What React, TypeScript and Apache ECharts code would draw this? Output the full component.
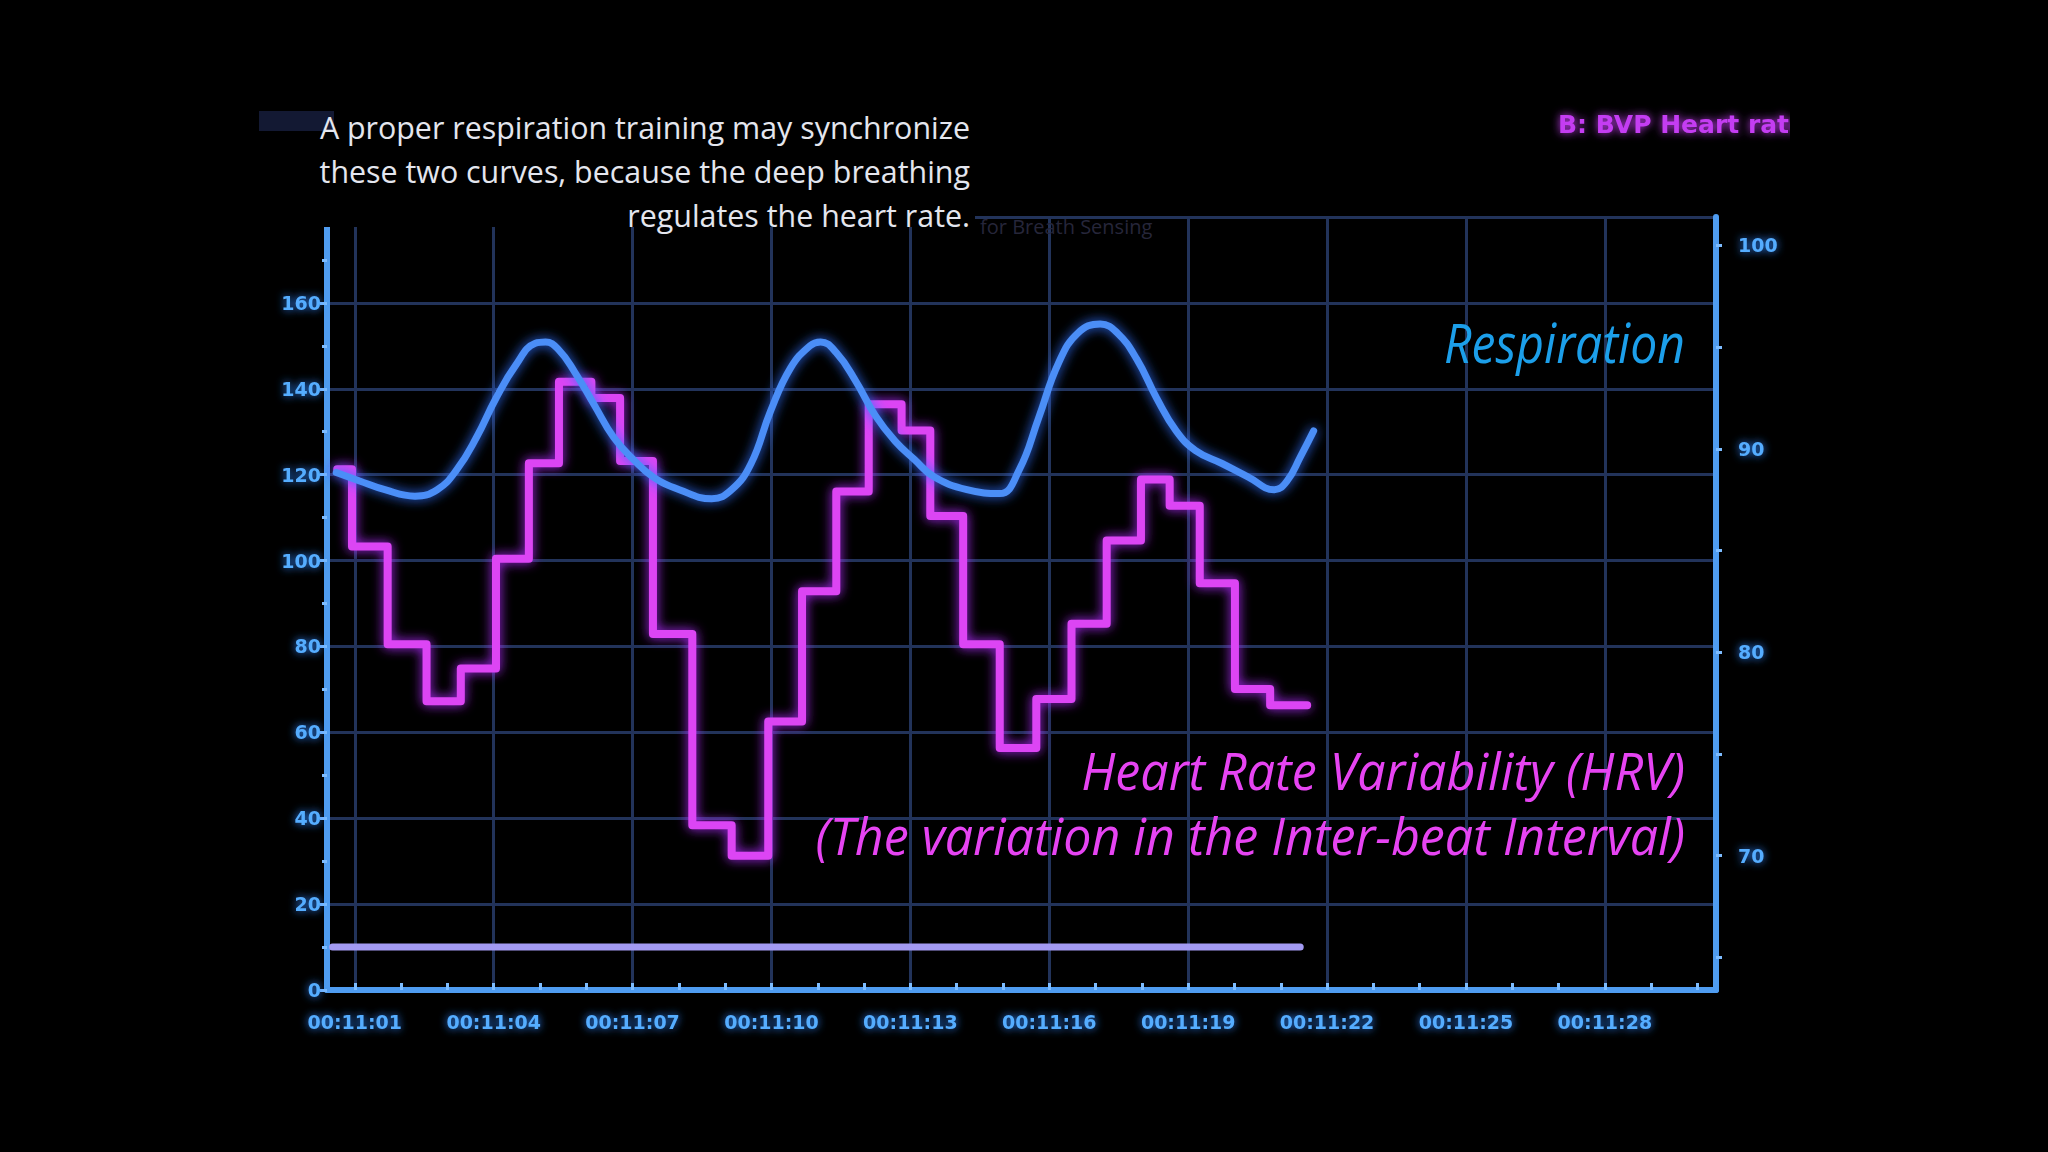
import React, { useEffect, useRef } from 'react';
import * as echarts from 'echarts';

// x: seconds after 00:11:00
const timeTicks = [1, 2, 3, 4, 5, 6, 7, 8, 9, 10, 11, 12, 13, 14, 15, 16, 17, 18, 19, 20, 21, 22, 23, 24, 25, 26, 27, 28, 29, 30];
const timeLabelValues = [1, 4, 7, 10, 13, 16, 19, 22, 25, 28];
const timeLabels = ['00:11:01', '00:11:04', '00:11:07', '00:11:10', '00:11:13', '00:11:16', '00:11:19', '00:11:22', '00:11:25', '00:11:28'];

const rightTickValues = [65, 70, 75, 80, 85, 90, 95, 100];
const rightLabelValues = [70, 80, 90, 100];

// Respiration (left axis)
const respTime = [0.6, 1.09, 1.65, 2.3, 2.78, 3.2, 3.63, 4.05, 4.47, 4.9, 5.12, 5.41, 5.75, 6.17, 6.59, 7.02, 7.44, 8.01, 8.71, 9.14, 9.56, 9.98, 10.41, 10.83, 11.06, 11.4, 11.82, 12.24, 12.67, 13.09, 13.51, 14.22, 14.93, 15.35, 15.77, 16.2, 16.62, 17.1, 17.47, 17.89, 18.32, 18.74, 19.16, 19.73, 20.29, 20.86, 21.14, 21.42, 21.71];
const respValue = [120.5, 118.6, 116.5, 115.0, 116.5, 121.1, 128.7, 137.8, 145.4, 150.6, 150.9, 149.0, 143.9, 136.3, 128.7, 123.5, 119.5, 116.5, 114.4, 116.5, 122.6, 134.8, 144.8, 150.0, 150.9, 148.4, 141.8, 133.8, 127.8, 123.5, 119.5, 116.5, 115.6, 121.1, 133.2, 146.0, 153.0, 155.1, 153.0, 146.9, 137.8, 130.2, 125.6, 122.6, 119.5, 116.5, 118.6, 124.1, 130.2];

// Heart rate steps (right axis): step start times and values
const hrvTime = [0.62, 0.94, 1.71, 2.55, 3.29, 4.05, 4.76, 5.41, 6.11, 6.73, 7.44, 8.29, 9.14, 9.93, 10.66, 11.4, 12.1, 12.81, 13.43, 14.14, 14.93, 15.72, 16.48, 17.24, 17.98, 18.6, 19.25, 20.01, 20.77, 21.57];
const hrvValue = [89.0, 85.2, 80.4, 77.6, 79.2, 84.6, 89.3, 93.3, 92.5, 89.4, 80.9, 71.5, 70.0, 76.6, 83.0, 87.9, 92.2, 90.9, 86.7, 80.4, 75.3, 77.7, 81.4, 85.5, 88.5, 87.2, 83.4, 78.2, 77.4, 77.4];

// Baseline trace (left axis)
const baseTime = [0.52, 21.42];
const baseValue = [10, 10];

const AXIS_BLUE = '#4f9cf0';
const TICK_BLUE = '#7dbcff';
const LABEL_BLUE = '#55adff';
const GRID_COLOR = '#22335a';

export default function App() {
  const ref = useRef<HTMLDivElement>(null);

  useEffect(() => {
    document.body.style.margin = '0';
    document.body.style.background = '#000';
    const chart = echarts.init(ref.current!, null, { renderer: 'svg' });

    const labelStyle = {
      color: LABEL_BLUE,
      fontFamily: 'DejaVu Sans',
      fontWeight: 'bold' as const,
      fontSize: 19,
      textShadowColor: '#2f86ff',
      textShadowBlur: 8,
    };
    const axisLineStyle = { color: AXIS_BLUE, width: 6 };

    chart.setOption({
      animation: false,
      backgroundColor: '#000000',
      grid: { left: 327, right: 332, top: 217, bottom: 162, containLabel: false },
      xAxis: [
        {
          type: 'value',
          min: 0.4,
          max: 30.4,
          position: 'bottom',
          z: 3,
          axisLine: { show: true, onZero: false, lineStyle: axisLineStyle },
          axisTick: { show: true, customValues: timeTicks, length: 7, inside: true, lineStyle: { color: TICK_BLUE, width: 3 } },
          axisLabel: {
            customValues: timeLabelValues,
            margin: 22,
            formatter: (v: number) => {
              const i = timeLabelValues.indexOf(Math.round(v));
              return i >= 0 ? timeLabels[i] : '';
            },
            ...labelStyle,
          },
          splitLine: { show: false },
        },
        {
          type: 'value',
          min: 0.4,
          max: 30.4,
          position: 'bottom',
          axisLine: { show: false },
          axisTick: { show: false, customValues: timeLabelValues },
          axisLabel: { show: false },
          splitLine: { show: true, lineStyle: { color: GRID_COLOR, width: 3 } },
        },
      ],
      yAxis: [
        {
          type: 'value',
          min: 0,
          max: 180,
          interval: 20,
          position: 'left',
          z: 3,
          axisLine: { show: true, onZero: false, lineStyle: axisLineStyle },
          axisTick: { show: true, length: 7, lineStyle: { color: TICK_BLUE, width: 3 } },
          minorTick: { show: true, splitNumber: 2, length: 5, lineStyle: { color: TICK_BLUE, width: 3 } },
          axisLabel: { showMaxLabel: false, margin: 6, ...labelStyle },
          splitLine: { show: true, lineStyle: { color: GRID_COLOR, width: 3 } },
        },
        {
          type: 'value',
          min: 63.4,
          max: 101.4,
          position: 'right',
          z: 3,
          axisLine: { show: true, onZero: false, lineStyle: axisLineStyle },
          axisTick: { show: true, customValues: rightTickValues, length: 6, lineStyle: { color: TICK_BLUE, width: 3 } },
          axisLabel: { customValues: rightLabelValues, margin: 22, ...labelStyle },
          splitLine: { show: false },
        },
      ],
      series: [
        {
          name: 'Baseline',
          type: 'line',
          xAxisIndex: 0,
          yAxisIndex: 0,
          symbol: 'none',
          data: baseTime.map((t, i) => [t, baseValue[i]]),
          lineStyle: { color: '#a39af2', width: 7, cap: 'round' },
        },
        {
          name: 'Heart rate',
          type: 'line',
          xAxisIndex: 0,
          yAxisIndex: 1,
          step: 'end',
          symbol: 'none',
          data: hrvTime.map((t, i) => [t, hrvValue[i]]),
          lineStyle: { color: '#dc45f4', width: 8, shadowBlur: 12, shadowColor: '#b02cff', join: 'round', cap: 'round' },
        },
        {
          name: 'Respiration',
          type: 'line',
          xAxisIndex: 0,
          yAxisIndex: 0,
          smooth: 0.45,
          symbol: 'none',
          data: respTime.map((t, i) => [t, respValue[i]]),
          lineStyle: { color: '#4b8ef7', width: 7, shadowBlur: 12, shadowColor: '#2f6fff', cap: 'round' },
        },
      ],
      graphic: [
        { type: 'rect', z: 50, shape: { x: 250, y: 95, width: 725, height: 132 }, style: { fill: '#000000' } },
        { type: 'rect', z: 51, shape: { x: 259, y: 111, width: 75, height: 20 }, style: { fill: '#131933' } },
        {
          type: 'text',
          z: 51,
          x: 980,
          y: 226,
          style: { text: 'for Breath Sensing', fill: '#26263a', font: '20px "Open Sans"', textAlign: 'left', textVerticalAlign: 'middle' },
        },
        {
          type: 'text',
          z: 52,
          x: 970,
          y: 105,
          scaleX: 0.98,
          style: {
            text: 'A proper respiration training may synchronize\nthese two curves, because the deep breathing\nregulates the heart rate.',
            fill: '#e4e6ee',
            font: '31px "Open Sans"',
            lineHeight: 44,
            textAlign: 'right',
            textVerticalAlign: 'top',
          },
        },
        {
          type: 'text',
          z: 52,
          x: 1685,
          y: 342,
          scaleX: 0.89,
          style: { text: 'Respiration', fill: '#1c9fea', font: 'italic 54px "Open Sans"', textAlign: 'right', textVerticalAlign: 'middle' },
        },
        {
          type: 'text',
          z: 52,
          x: 1685,
          y: 737,
          scaleX: 0.965,
          style: {
            text: 'Heart Rate Variability (HRV)\n(The variation in the Inter-beat Interval)',
            fill: '#e644f2',
            font: 'italic 52px "Open Sans"',
            lineHeight: 65,
            textAlign: 'right',
            textVerticalAlign: 'top',
          },
        },
        {
          type: 'text',
          z: 52,
          x: 1558,
          y: 124,
          style: {
            text: 'B: BVP Heart rate',
            fill: '#c43cf2',
            font: 'bold 25px "DejaVu Sans"',
            textAlign: 'left',
            textVerticalAlign: 'middle',
            textShadowBlur: 8,
            textShadowColor: '#c43cf2',
          },
        },
        { type: 'rect', z: 53, shape: { x: 1790, y: 100, width: 258, height: 50 }, style: { fill: '#000000' } },
      ],
    });

    return () => chart.dispose();
  }, []);

  return <div ref={ref} style={{ position: 'fixed', left: 0, top: 0, width: 2048, height: 1152, background: '#000' }} />;
}
